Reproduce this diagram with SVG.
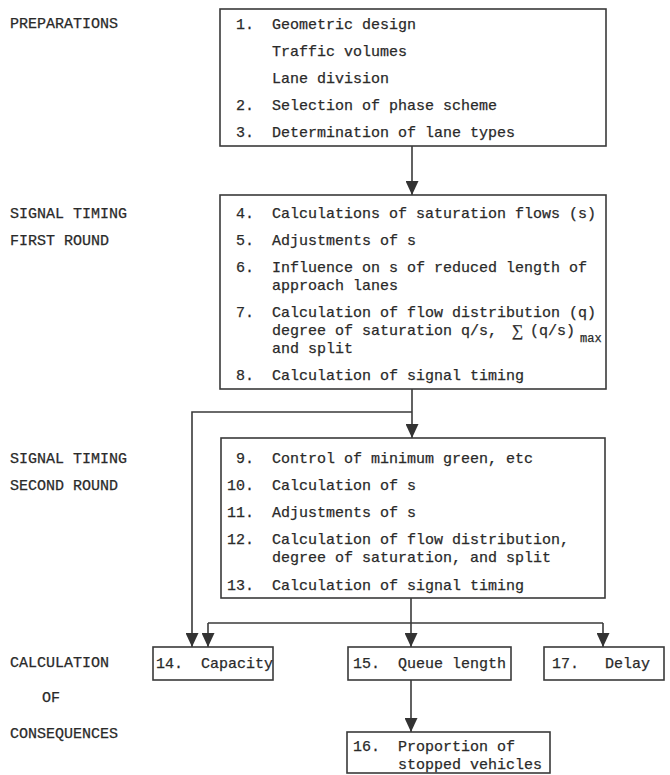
<svg xmlns="http://www.w3.org/2000/svg" width="670" height="775" viewBox="0 0 670 775">
<defs>
<marker id="ah" markerWidth="14" markerHeight="13" refX="14" refY="6.5" orient="auto" markerUnits="userSpaceOnUse" viewBox="0 0 14 13">
<path d="M0,0 L14,6.5 L0,13 Z" fill="#333"/>
</marker>
<style>
text{font-family:"Liberation Mono","Courier New",monospace;font-size:15px;fill:#2a2a2a;stroke:#2a2a2a;stroke-width:0.25}
.box{fill:none;stroke:#3a3a3a;stroke-width:1.6}
.ln{fill:none;stroke:#3a3a3a;stroke-width:1.6}
.sub{font-size:12px}
.sig{font-family:"Liberation Serif","DejaVu Serif",serif;font-size:16px}
</style>
</defs>
<rect width="670" height="775" fill="#ffffff"/>

<g id="labels">
<text x="10" y="28">PREPARATIONS</text>
<text x="10" y="218">SIGNAL TIMING</text>
<text x="10" y="245">FIRST ROUND</text>
<text x="10" y="463">SIGNAL TIMING</text>
<text x="10" y="490">SECOND ROUND</text>
<text x="10" y="667">CALCULATION</text>
<text x="42" y="702">OF</text>
<text x="10" y="738">CONSEQUENCES</text>
</g>

<g id="connectors">
<line class="ln" x1="412" y1="146" x2="412" y2="195" marker-end="url(#ah)"/>
<line class="ln" x1="412" y1="389" x2="412" y2="438" marker-end="url(#ah)"/>
<polyline class="ln" points="412,412 192,412 192,647" marker-end="url(#ah)"/>
<line class="ln" x1="411" y1="598" x2="411" y2="647" marker-end="url(#ah)"/>
<line class="ln" x1="208" y1="623" x2="603" y2="623"/>
<line class="ln" x1="208" y1="623" x2="208" y2="647" marker-end="url(#ah)"/>
<line class="ln" x1="603" y1="623" x2="603" y2="647" marker-end="url(#ah)"/>
<line class="ln" x1="411" y1="680" x2="411" y2="732" marker-end="url(#ah)"/>
</g>

<g id="node1">
<rect class="box" x="220" y="9" width="386" height="137"/>
<text x="236" y="29">1.</text><text x="272" y="29">Geometric design</text>
<text x="272" y="56">Traffic volumes</text>
<text x="272" y="83">Lane division</text>
<text x="236" y="110">2.</text><text x="272" y="110">Selection of phase scheme</text>
<text x="236" y="137">3.</text><text x="272" y="137">Determination of lane types</text>
</g>

<g id="node2">
<rect class="box" x="220" y="195" width="386" height="194"/>
<text x="236" y="218">4.</text><text x="272" y="218">Calculations of saturation flows (s)</text>
<text x="236" y="245">5.</text><text x="272" y="245">Adjustments of s</text>
<text x="236" y="272">6.</text><text x="272" y="272">Influence on s of reduced length of</text>
<text x="272" y="290">approach lanes</text>
<text x="236" y="317">7.</text><text x="272" y="317">Calculation of flow distribution (q)</text>
<text x="272" y="335">degree of saturation q/s,</text>
<text class="sig" x="512" y="336">∑</text>
<text x="530" y="335">(q/s)</text>
<text class="sub" x="580" y="342">max</text>
<text x="272" y="353">and split</text>
<text x="236" y="380">8.</text><text x="272" y="380">Calculation of signal timing</text>
</g>

<g id="node3">
<rect class="box" x="221" y="438" width="384" height="160"/>
<text x="236" y="463">9.</text><text x="272" y="463">Control of minimum green, etc</text>
<text x="227" y="490">10.</text><text x="272" y="490">Calculation of s</text>
<text x="227" y="517">11.</text><text x="272" y="517">Adjustments of s</text>
<text x="227" y="544">12.</text><text x="272" y="544">Calculation of flow distribution,</text>
<text x="272" y="562">degree of saturation, and split</text>
<text x="227" y="590">13.</text><text x="272" y="590">Calculation of signal timing</text>
</g>

<g id="node14">
<rect class="box" x="153" y="647" width="120" height="33"/>
<text x="156" y="668">14.</text><text x="201" y="668">Capacity</text>
</g>

<g id="node15">
<rect class="box" x="348" y="647" width="163" height="33"/>
<text x="353" y="668">15.</text><text x="398" y="668">Queue length</text>
</g>

<g id="node17">
<rect class="box" x="544" y="647" width="120" height="33"/>
<text x="552" y="668">17.</text><text x="605" y="668">Delay</text>
</g>

<g id="node16">
<rect class="box" x="347" y="732" width="203" height="41"/>
<text x="353" y="751">16.</text><text x="398" y="751">Proportion of</text>
<text x="398" y="769">stopped vehicles</text>
</g>
</svg>
